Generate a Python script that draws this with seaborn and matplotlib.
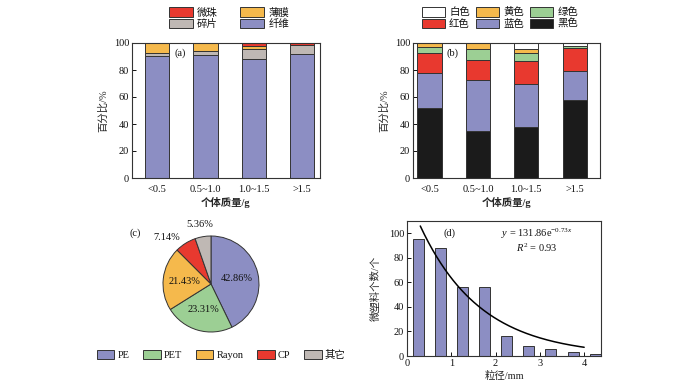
import numpy as np
import matplotlib
matplotlib.use('Agg')
import matplotlib.pyplot as plt
import seaborn as sns
from matplotlib.patches import Patch

# ---------------- data ----------------
mass_classes = ['<0.5', '0.5~1.0', '1.0~1.5', '>1.5']

# (a) shape composition, bottom -> top
shape_names = ['纤维', '碎片', '薄膜', '微珠']
shape_fiber = [90.5, 91.0, 88.0, 92.0]
shape_fragment = [2.0, 3.0, 7.5, 6.8]
shape_film = [7.5, 6.0, 2.0, 0.0]
shape_bead = [0.0, 0.0, 2.5, 1.2]

# (b) colour composition, bottom -> top
color_names = ['黑色', '蓝色', '红色', '绿色', '黄色', '白色']
color_black = [52.0, 35.0, 38.0, 57.5]
color_blue = [26.0, 37.5, 31.5, 21.5]
color_red = [14.5, 15.0, 17.5, 17.5]
color_green = [4.5, 8.0, 5.5, 1.5]
color_yellow = [3.0, 4.5, 3.0, 0.0]
color_white = [0.0, 0.0, 4.5, 2.0]

# (c) polymer types
polymer_names = ['PE', 'PET', 'Rayon', 'CP', '其它']
polymer_pct = [42.86, 23.31, 21.43, 7.14, 5.36]

# (d) size distribution
size_mid = [0.25, 0.75, 1.25, 1.75, 2.25, 2.75, 3.25, 3.75, 4.25]
size_count = [95, 88, 56, 56, 16, 8, 6, 3, 2]
fit_a, fit_b = 131.86, -0.73
fit_range = [0.3, 4.0]

# ---------------- style ----------------
sns.set_theme(style='ticks')
plt.rcParams['font.family'] = ['Liberation Serif', 'Noto Sans CJK SC']
plt.rcParams['mathtext.fontset'] = 'custom'
plt.rcParams['mathtext.rm'] = 'Liberation Serif'
plt.rcParams['mathtext.it'] = 'Liberation Serif:italic'
plt.rcParams['axes.unicode_minus'] = False
plt.rcParams['text.color'] = '#111111'
FS = 7.5
EDGE = '#333333'
C_BLUE = '#8c8ec3'
C_GREY = '#bfb8b4'
C_YEL = '#f5b94c'
C_RED = '#e8392f'
C_GRN = '#9ccf94'
C_BLK = '#1b1b1b'
C_WHT = '#ffffff'

fig = plt.figure(figsize=(7, 3.87), dpi=100)
W, H = 700, 387
ax_a = fig.add_axes([132 / W, 1 - 178 / H, 188 / W, 135 / H])
ax_b = fig.add_axes([413 / W, 1 - 178 / H, 187 / W, 135 / H])
ax_d = fig.add_axes([407 / W, 1 - 356 / H, 194 / W, 135 / H])
ax_c = fig.add_axes([(211 - 60) / W, 1 - (284 + 60) / H, 120 / W, 120 / H])


def stacked(ax, layers, colors):
    bottom = np.zeros(len(mass_classes))
    for vals, col in zip(layers, colors):
        sns.barplot(x=mass_classes, y=vals, bottom=bottom, color=col,
                    saturation=1, width=0.5, edgecolor=EDGE, linewidth=0.7,
                    errorbar=None, ax=ax)
        bottom = bottom + np.asarray(vals, dtype=float)


def style_axes(ax):
    for s in ax.spines.values():
        s.set_linewidth(0.8)
        s.set_color('#333333')
    ax.tick_params(axis='both', direction='in', labelsize=FS, width=0.7,
                   length=3, colors='#111111', pad=2)


# (a)
stacked(ax_a, [shape_fiber, shape_fragment, shape_film, shape_bead],
        [C_BLUE, C_GREY, C_YEL, C_RED])
# (b)
stacked(ax_b, [color_black, color_blue, color_red, color_green, color_yellow, color_white],
        [C_BLK, C_BLUE, C_RED, C_GRN, C_YEL, C_WHT])

for ax, xl in [(ax_a, (-0.52, 3.37)), (ax_b, (-0.34, 3.52))]:
    style_axes(ax)
    ax.set_xlim(*xl)
    ax.set_ylim(0, 100)
    ax.set_yticks([0, 20, 40, 60, 80, 100])
    ax.tick_params(axis='x', length=0, pad=5)
    ax.set_xlabel('个体质量/g', fontsize=FS, labelpad=2, fontweight='bold')
    ax.set_ylabel('百分比/%', fontsize=FS, labelpad=4)
ax_a.text(0.255, 0.926, '(a)', transform=ax_a.transAxes, ha='center', va='center', fontsize=FS)
ax_b.text(0.21, 0.926, '(b)', transform=ax_b.transAxes, ha='center', va='center', fontsize=FS)

leg_kw = dict(frameon=False, fontsize=FS, handletextpad=0.4, labelspacing=0.1,
              handleheight=1.0, borderpad=0)
ha = [Patch(facecolor=c, edgecolor=EDGE, linewidth=0.7) for c in [C_RED, C_GREY, C_YEL, C_BLUE]]
fig.legend(ha, ['微珠', '碎片', '薄膜', '纤维'], loc='center', ncol=2,
           bbox_to_anchor=(229 / W, 1 - 18 / H), handlelength=2.3,
           columnspacing=2.2, **leg_kw)
hb = [Patch(facecolor=c, edgecolor=EDGE, linewidth=0.7)
      for c in [C_WHT, C_RED, C_YEL, C_BLUE, C_GRN, C_BLK]]
fig.legend(hb, ['白色', '红色', '黄色', '蓝色', '绿色', '黑色'], loc='center', ncol=3,
           bbox_to_anchor=(500 / W, 1 - 18 / H), handlelength=2.2,
           columnspacing=0.6, **leg_kw)

# (c) pie
pie_colors = [C_BLUE, C_GRN, C_YEL, C_RED, C_GREY]
wedges, texts, autotexts = ax_c.pie(
    polymer_pct, colors=pie_colors, startangle=90, counterclock=False,
    autopct=lambda p: '', pctdistance=0.55,
    wedgeprops=dict(edgecolor=EDGE, linewidth=0.7))
for t, v in zip(autotexts, polymer_pct):
    t.set_text(f'{v:.2f}%')
    t.set_fontsize(FS)
    t.set_color('#111111')
autotexts[3].set_position((-0.92, 0.96))
autotexts[4].set_position((-0.23, 1.23))
ax_c.set_xlim(-1.25, 1.25)
ax_c.set_ylim(-1.25, 1.25)
ax_c.set_aspect('equal')
ax_c.axis('off')
fig.text(135 / W, 1 - 233 / H, '(c)', ha='center', va='center', fontsize=FS)
hc = [Patch(facecolor=c, edgecolor=EDGE, linewidth=0.7) for c in pie_colors]
fig.legend(hc, polymer_names, loc='center', ncol=5, bbox_to_anchor=(221 / W, 1 - 355 / H),
           frameon=False, fontsize=FS, handlelength=1.7, handleheight=0.85,
           handletextpad=0.3, columnspacing=1.3, borderpad=0)

# (d)
sns.barplot(x=size_mid, y=size_count, native_scale=True, width=0.5, color=C_BLUE,
            saturation=1, edgecolor=EDGE, linewidth=0.7, errorbar=None, ax=ax_d)
xs = np.linspace(fit_range[0], fit_range[1], 200)
sns.lineplot(x=xs, y=fit_a * np.exp(fit_b * xs), color='black', linewidth=1.1, ax=ax_d)
style_axes(ax_d)
ax_d.set_xlim(0, 4.38)
ax_d.set_ylim(0, 110)
ax_d.set_xticks([0, 1, 2, 3, 4])
ax_d.set_xticklabels(['0', '1', '2', '3', '4'])
ax_d.set_yticks([0, 20, 40, 60, 80, 100])
ax_d.set_xlabel('粒径/mm', fontsize=FS, labelpad=2)
ax_d.set_ylabel('微塑料个数/个', fontsize=FS, labelpad=6)
ax_d.text(0.22, 0.91, '(d)', transform=ax_d.transAxes, ha='center', va='center', fontsize=FS)
ax_d.text(0.67, 0.905, r'$y$ = 131.86e$^{-0.73x}$', transform=ax_d.transAxes,
          ha='center', va='center', fontsize=FS)
ax_d.text(0.67, 0.80, r'$R^2$ = 0.93', transform=ax_d.transAxes,
          ha='center', va='center', fontsize=FS)

fig.savefig('out.png', dpi=100)
